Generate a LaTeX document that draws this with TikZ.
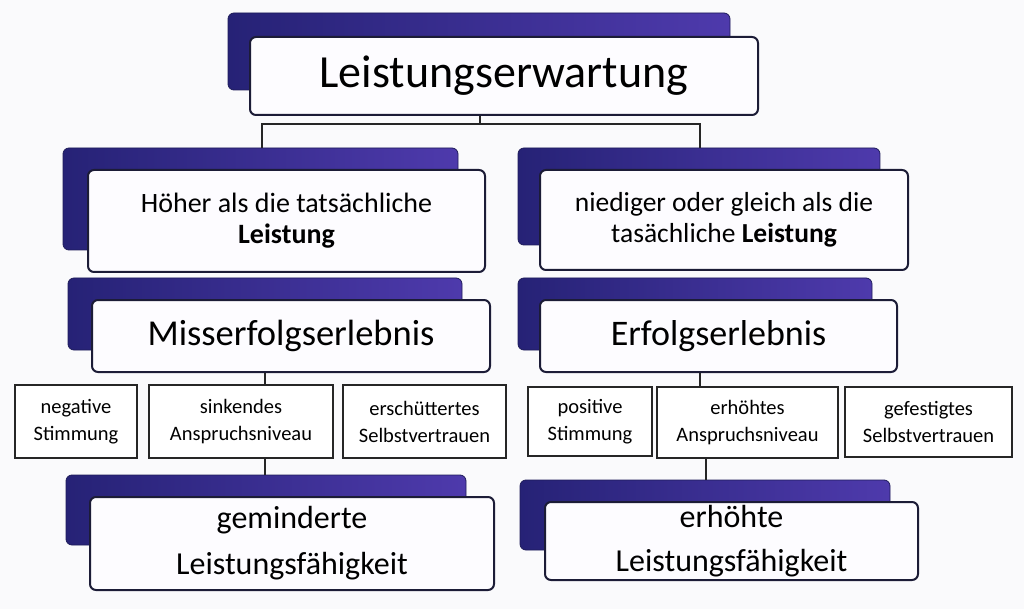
\documentclass[tikz,border=0pt]{standalone}
\usepackage{fontspec}
\setmainfont{Carlito}
\begin{document}
\begin{tikzpicture}[x=1pt,y=-1pt,
  darkbox/.style={rounded corners=6pt, left color=darkL, right color=darkR, draw=darkE, line width=0.8pt, inner sep=0pt},
  whitebox/.style={rounded corners=6pt, fill=boxfill, draw=edge, line width=2pt, align=center, inner sep=0pt, text=black},
  smallbox/.style={fill=white, draw=black!85, line width=1.5pt, align=center, inner sep=0pt, font=\fontsize{20.5}{27}\selectfont},
  conn/.style={draw=black!85, line width=1.4pt}]
\definecolor{darkL}{RGB}{38,34,118}
\definecolor{darkR}{RGB}{78,58,172}
\definecolor{darkE}{RGB}{30,28,90}
\definecolor{edge}{RGB}{28,28,55}
\definecolor{boxfill}{RGB}{253,252,255}
\definecolor{bg}{RGB}{250,250,252}
\fill[bg] (0,0) rectangle (1024,609);
\useasboundingbox (0,0) rectangle (1024,609);

% dark backing boxes
\node[darkbox, minimum width=502pt, minimum height=77pt] (topD) at (479,51.5) {};
\node[darkbox, minimum width=395pt, minimum height=102pt] (hlD) at (260.5,199) {};
\node[darkbox, minimum width=362pt, minimum height=97pt] (hrD) at (699,196.5) {};
\node[darkbox, minimum width=394pt, minimum height=72pt] (mlD) at (265,314) {};
\node[darkbox, minimum width=354pt, minimum height=72pt] (mrD) at (695,314) {};
\node[darkbox, minimum width=400pt, minimum height=70pt] (blD) at (266,510) {};
\node[darkbox, minimum width=370pt, minimum height=70pt] (brD) at (705,515) {};

% white boxes
\node[whitebox, minimum width=508pt, minimum height=78pt, font=\fontsize{46}{50}\selectfont] (topW) at (504,76) {Leistungserwartung};
\node[whitebox, minimum width=397pt, minimum height=102pt, font=\fontsize{28}{31}\selectfont] (hlW) at (286.5,221) {Höher als die tatsächliche\\\textbf{Leistung}};
\node[whitebox, minimum width=368pt, minimum height=100pt, font=\fontsize{27.5}{31}\selectfont] (hrW) at (724,220) {niediger oder gleich als die\\tasächliche \textbf{Leistung}};
\node[whitebox, minimum width=398pt, minimum height=72pt, font=\fontsize{36.5}{40}\selectfont] (mlW) at (291,336) {Misserfolgserlebnis};
\node[whitebox, minimum width=357pt, minimum height=72pt, font=\fontsize{36}{40}\selectfont] (mrW) at (718.5,336) {Erfolgserlebnis};
\node[whitebox, minimum width=404pt, minimum height=93pt, font=\fontsize{32}{46}\selectfont] (blW) at (292,543.5) {geminderte\\Leistungsfähigkeit};
\node[whitebox, minimum width=373pt, minimum height=78pt, font=\fontsize{32}{44}\selectfont] (brW) at (731.5,541) {erhöhte\\Leistungsfähigkeit};

% small boxes
\node[smallbox, minimum width=122pt, minimum height=73pt] (negS) at (76,421.5) {negative\\Stimmung};
\node[smallbox, minimum width=184pt, minimum height=73pt] (sinkA) at (241,421.5) {sinkendes\\Anspruchsniveau};
\node[smallbox, minimum width=163pt, minimum height=73pt] (erschS) at (424.5,421.5) {erschüttertes\\Selbstvertrauen};
\node[smallbox, minimum width=124pt, minimum height=69pt] (posS) at (590,421.5) {positive\\Stimmung};
\node[smallbox, minimum width=181pt, minimum height=71pt] (erhA) at (747.5,422.5) {erhöhtes\\Anspruchsniveau};
\node[smallbox, minimum width=167pt, minimum height=70pt] (gefS) at (928.5,422) {gefestigtes\\Selbstvertrauen};

% connectors
\coordinate (j) at (480,124);
\coordinate (cl) at (265,0);
\coordinate (cr) at (700,0);
\coordinate (cr2) at (706,0);
\draw[conn] (topW.south -| j) -- (j);
\draw[conn] (hlD.north -| 262,0) |- (j) -| (hrD.north -| cr);
\draw[conn] (mlW.south -| cl) -- (sinkA.north -| cl);
\draw[conn] (sinkA.south -| cl) -- (blD.north -| cl);
\draw[conn] (mrW.south -| cr) -- (erhA.north -| cr);
\draw[conn] (erhA.south -| cr2) -- (brD.north -| cr2);
\end{tikzpicture}
\end{document}
